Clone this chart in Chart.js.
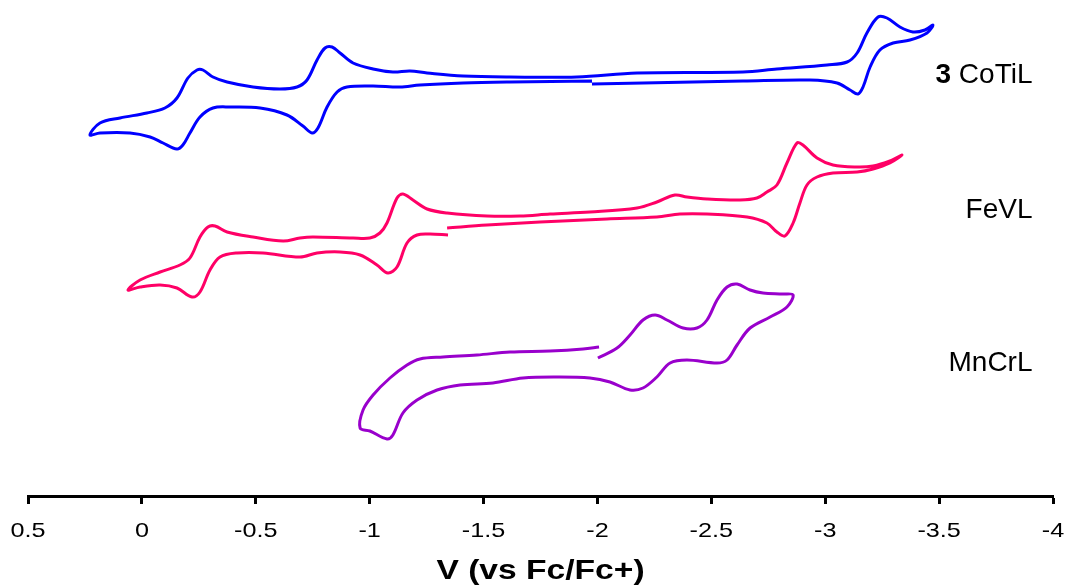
<!DOCTYPE html>
<html>
<head>
<meta charset="utf-8">
<title>CV of CoTiL, FeVL, MnCrL</title>
<script src="https://cdn.jsdelivr.net/npm/chart.js@4.4.1/dist/chart.umd.min.js"></script>
<style>
  html, body { margin: 0; padding: 0; background: #fff; }
  #cv { display: block; }
</style>
</head>
<body>
<canvas id="cv" width="1065" height="587"></canvas>
<script>
// Potential (V vs Fc/Fc+) and current (arbitrary units, stacked)
const coTiLV = [-1.976, -1.616, -1.410, -1.221, -1.133, -1.015, -0.900, -0.857, -0.813, -0.773,
  -0.747, -0.707, -0.637, -0.519, -0.387, -0.312, -0.255, -0.211, -0.180, -0.154,
  -0.093, -0.036, 0.052, 0.184, 0.228, 0.184, 0.096, -0.022, -0.101, -0.154,
  -0.202, -0.242, -0.268, -0.312, -0.374, -0.488, -0.606, -0.681, -0.725, -0.769,
  -0.804, -0.835, -0.870, -0.927, -1.015, -1.102, -1.177, -1.252, -1.410, -1.616,
  -1.910, -2.174, -2.639, -2.788, -3.008, -3.096, -3.140, -3.183, -3.232, -3.271,
  -3.328, -3.385, -3.438, -3.473, -3.447, -3.372, -3.298, -3.240, -3.197, -3.166,
  -3.144, -3.109, -3.052, -2.933, -2.639, -2.200, -1.976];
const coTiLI = [41.5, 41.4, 41.3, 41.1, 40.9, 41.0, 40.9, 40.4, 38.9, 36.8,
  36.3, 37.0, 38.1, 38.8, 38.9, 38.8, 37.9, 36.3, 35.1, 34.7,
  35.3, 35.9, 36.3, 36.3, 36.1, 37.3, 37.8, 38.3, 38.8, 39.8,
  41.8, 42.6, 42.6, 41.9, 41.4, 40.9, 40.7, 40.9, 41.6, 43.6,
  44.8, 44.9, 44.3, 43.3, 42.7, 42.4, 42.5, 42.3, 42.0, 41.9,
  41.9, 42.3, 42.4, 42.7, 43.1, 43.4, 44.3, 46.3, 47.9, 47.8,
  46.9, 46.4, 46.6, 47.1, 46.3, 45.6, 45.3, 44.6, 42.9, 40.9,
  40.2, 40.6, 41.3, 41.6, 41.5, 41.3, 41.2];

const feVLV = [-1.344, -1.265, -1.208, -1.164, -1.120, -1.080, -1.032, -0.958, -0.870, -0.769,
  -0.694, -0.532, -0.418, -0.343, -0.299, -0.255, -0.220, -0.154, -0.080, 0.008,
  0.061, 0.008, -0.080, -0.167, -0.211, -0.255, -0.290, -0.321, -0.374, -0.488,
  -0.620, -0.694, -0.751, -0.927, -1.001, -1.045, -1.076, -1.120, -1.146, -1.190,
  -1.252, -1.340, -1.515, -1.660, -1.792, -1.967, -2.174, -2.261, -2.340, -2.393,
  -2.481, -2.626, -2.700, -2.744, -2.788, -2.832, -2.876, -2.902, -2.964, -3.034,
  -3.140, -3.210, -3.284, -3.337, -3.284, -3.210, -3.140, -3.034, -2.964, -2.920,
  -2.889, -2.859, -2.823, -2.788, -2.744, -2.657, -2.481, -2.362, -2.261, -2.042,
  -1.748, -1.515, -1.340];
const feVLI = [26.1, 26.2, 26.1, 25.3, 22.9, 22.3, 23.1, 24.1, 24.4, 24.3,
  23.9, 24.3, 24.3, 23.9, 22.6, 20.4, 19.9, 20.8, 21.1, 20.9,
  20.6, 21.6, 22.4, 23.1, 23.8, 25.9, 26.9, 27.0, 26.4, 25.9,
  25.5, 25.8, 25.9, 25.8, 25.8, 26.3, 27.3, 29.8, 30.2, 29.6,
  28.7, 28.3, 28.0, 28.0, 28.2, 28.4, 28.8, 29.4, 30.1, 29.9,
  29.7, 29.6, 29.8, 30.4, 31.1, 33.3, 35.3, 35.1, 33.8, 33.1,
  32.9, 33.0, 33.5, 34.1, 33.3, 32.7, 32.4, 32.3, 31.9, 31.1,
  29.3, 27.3, 26.0, 26.4, 27.3, 27.9, 28.2, 28.2, 27.9, 27.7,
  27.4, 27.1, 26.8];

const mnCrLV = [-2.007, -1.937, -1.792, -1.616, -1.471, -1.322, -1.221, -1.164, -1.089, -1.015,
  -0.971, -0.958, -1.001, -1.076, -1.102, -1.146, -1.208, -1.296, -1.397, -1.541,
  -1.673, -1.822, -1.967, -2.055, -2.143, -2.200, -2.261, -2.319, -2.393, -2.525,
  -2.569, -2.613, -2.670, -2.758, -2.832, -2.859, -2.815, -2.727, -2.670, -2.613,
  -2.569, -2.525, -2.481, -2.437, -2.376, -2.305, -2.253, -2.200, -2.143, -2.086,
  -2.002];
const mnCrLI = [14.9, 14.7, 14.5, 14.4, 14.1, 13.9, 13.7, 13.1, 11.8, 10.1,
  8.6, 6.8, 6.5, 5.7, 6.1, 8.3, 9.6, 10.6, 11.1, 11.3,
  11.8, 11.9, 11.8, 11.4, 10.6, 10.8, 11.9, 13.3, 13.6, 13.3,
  13.6, 15.1, 16.8, 17.9, 18.9, 20.1, 20.2, 20.3, 20.6, 21.2,
  20.9, 19.6, 17.6, 16.8, 16.8, 17.6, 18.1, 17.6, 16.1, 14.8,
  13.8];

const seriesNames = ['CoTiL', 'FeVL', 'MnCrL'];
const seriesPrefix = ['3', '', ''];
const seriesColors = ['#0000ff', '#ff0066', '#9900cc'];
const xTicks = [0.5, 0, -0.5, -1, -1.5, -2, -2.5, -3, -3.5, -4];
const xTitle = 'V (vs Fc/Fc+)';

function toPoints(vs, is) {
    return vs.map((v, k) => ({ x: v, y: is[k] }));
}

// axis text in the original is wider than the plain font, so stretch it a bit
const TICK_STRETCH = 1.2;
const TITLE_STRETCH = 1.2;
const FONT = "'Liberation Sans', Arial, sans-serif";

const axisTextPlugin = {
    id: 'axisText',
    afterDraw(chart) {
        const ctx = chart.ctx;
        const xs = chart.scales.x;
        const ys = chart.scales.y;
        ctx.save();
        ctx.fillStyle = '#000';
        ctx.textBaseline = 'alphabetic';
        ctx.textAlign = 'center';

        // tick labels
        ctx.font = '21px ' + FONT;
        const tickBase = xs.top + 41;
        xTicks.forEach(t => {
            const px = xs.getPixelForValue(t);
            ctx.save();
            ctx.translate(px, tickBase);
            ctx.scale(TICK_STRETCH, 1);
            ctx.fillText(String(t), 0, 0);
            ctx.restore();
        });

        // axis title
        ctx.font = 'bold 28px ' + FONT;
        ctx.save();
        ctx.translate((chart.chartArea.left + chart.chartArea.right) / 2, xs.top + 83);
        ctx.scale(TITLE_STRETCH, 1);
        ctx.fillText(xTitle, 0, 0);
        ctx.restore();

        // series labels, right aligned
        const labelV = -3.91;
        const labelI = [41.3, 27.8, 12.5];
        const right = xs.getPixelForValue(labelV);
        ctx.textAlign = 'left';
        seriesNames.forEach((name, k) => {
            const base = ys.getPixelForValue(labelI[k]);
            ctx.font = '28px ' + FONT;
            const rest = (seriesPrefix[k] ? ' ' : '') + name;
            const wRest = ctx.measureText(rest).width;
            const x = right - wRest;
            if (seriesPrefix[k]) {
                ctx.font = 'bold 28px ' + FONT;
                const wPre = ctx.measureText(seriesPrefix[k]).width;
                ctx.fillText(seriesPrefix[k], x - wPre, base);
                ctx.font = '28px ' + FONT;
            }
            ctx.fillText(rest, x, base);
        });
        ctx.restore();
    }
};

const datasets = [
    toPoints(coTiLV, coTiLI),
    toPoints(feVLV, feVLI),
    toPoints(mnCrLV, mnCrLI)
].map((pts, k) => ({
    label: seriesNames[k],
    data: pts,
    showLine: true,
    borderColor: seriesColors[k],
    backgroundColor: seriesColors[k],
    borderWidth: 3,
    pointRadius: 0,
    tension: 0.35,
    fill: false
}));

new Chart(document.getElementById('cv').getContext('2d'), {
    type: 'scatter',
    data: { datasets },
    options: {
        responsive: false,
        animation: false,
        devicePixelRatio: 1,
        layout: { padding: { left: 28, right: 12, top: 0, bottom: 83 } },
        plugins: {
            legend: { display: false },
            tooltip: { enabled: false }
        },
        scales: {
            x: {
                type: 'linear',
                reverse: true,
                min: -4,
                max: 0.5,
                afterBuildTicks: scale => {
                    scale.ticks = xTicks.map(v => ({ value: v }));
                },
                ticks: { display: false },
                grid: {
                    drawOnChartArea: false,
                    drawTicks: true,
                    tickLength: 8,
                    tickWidth: 3,
                    tickColor: '#000'
                },
                border: { display: true, color: '#000', width: 3 },
                title: { display: false, text: xTitle }
            },
            y: {
                display: false,
                min: 0,
                max: 49.6
            }
        }
    },
    plugins: [axisTextPlugin]
});
</script>
</body>
</html>
